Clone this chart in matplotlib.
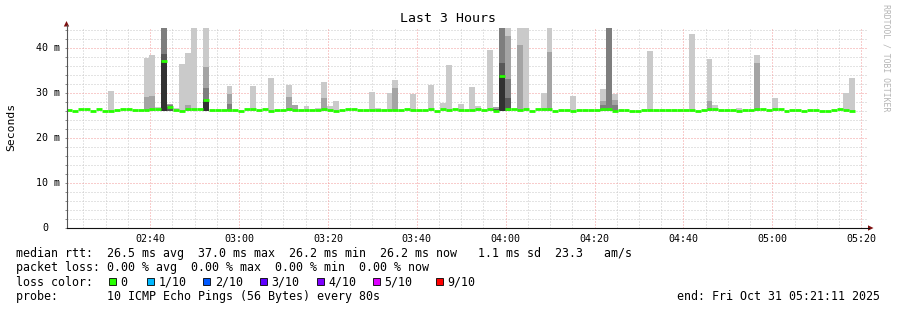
import numpy as np
import matplotlib
matplotlib.use("Agg")
import matplotlib.pyplot as plt
import matplotlib.transforms as mtransforms
from matplotlib.patches import Rectangle, Polygon

W, H = 897, 310
MONO = "DejaVu Sans Mono"


def hhmm(s):
    p = [int(v) for v in s.split(":")]
    return p[0] * 60 + p[1] + (p[2] / 60 if len(p) > 2 else 0)


# rrd window: last 3 hours, 80 s step
t_start = hhmm("02:21:11")
t_end = hhmm("05:21:11")
step = 80 / 60

# median rtt per step (ms)
median_rtt = [
    26.3, 26.1, 26.5, 26.5, 26.1, 26.5, 26.1, 26.1, 26.3, 26.5,
    26.5, 26.3, 26.3, 26.3, 26.5, 26.5, 37.0, 26.9, 26.3, 26.1,
    26.5, 26.5, 26.5, 28.4, 26.3, 26.3, 26.3, 26.3, 26.3, 26.1,
    26.5, 26.5, 26.3, 26.5, 26.1, 26.3, 26.3, 26.5, 26.3, 26.3,
    26.3, 26.3, 26.3, 26.5, 26.3, 26.1, 26.3, 26.5, 26.5, 26.3,
    26.3, 26.3, 26.3, 26.3, 26.3, 26.3, 26.3, 26.5, 26.3, 26.3,
    26.3, 26.5, 26.1, 26.5, 26.3, 26.5, 26.3, 26.3, 26.3, 26.5,
    26.3, 26.5, 26.1, 33.8, 26.5, 26.5, 26.3, 26.5, 26.1, 26.5,
    26.5, 26.5, 26.1, 26.3, 26.3, 26.1, 26.3, 26.3, 26.3, 26.3,
    26.5, 26.5, 26.1, 26.3, 26.3, 26.1, 26.1, 26.3, 26.3, 26.3,
    26.3, 26.3, 26.3, 26.3, 26.3, 26.3, 26.1, 26.3, 26.5, 26.5,
    26.3, 26.3, 26.3, 26.1, 26.3, 26.3, 26.5, 26.5, 26.3, 26.5,
    26.5, 26.1, 26.3, 26.3, 26.1, 26.3, 26.3, 26.1, 26.1, 26.3,
    26.5, 26.3, 26.1,
]

# smoke: step index and top of each ping band (outer -> inner), ms
N = np.nan
smoke_step = [7, 13, 14, 15, 16, 17, 18, 19, 20, 21, 23, 27, 31, 34, 37, 38,
              40, 42, 43, 44, 45, 51, 52, 54, 55, 58, 61, 63, 64, 66, 68, 69,
              71, 72, 73, 74, 76, 77, 80, 81, 85, 90, 91, 92, 98, 105, 108,
              109, 113, 116, 119, 131, 132]
band1 = [30.4, 37.8, 38.4, 26.8, N, N, 26.7, 36.4, 38.9, 44.6, 44.6, 31.6,
         31.6, 33.3, 31.8, N, 27.1, 26.7, 32.4, 27.1, 28.3, 30.2, 26.7, 30.0,
         32.9, 29.8, 31.8, 27.8, 36.2, 27.6, 31.3, 27.1, 39.6, N, N, 44.6,
         44.6, 44.6, 30.0, 44.6, 29.3, 30.9, N, 29.8, 39.3, 43.0, 37.6, 27.3,
         26.7, 38.4, 28.9, 30.0, 33.3]
band2 = [N, 29.1, 29.3, N, N, 27.6, N, N, 27.3, N, 35.8, 29.8, N, N, 29.1,
         27.3, N, N, 28.9, N, N, N, N, N, 31.1, N, N, N, N, N, N, N, N, 26.9,
         N, 42.7, 40.7, N, N, 39.1, N, 28.2, N, 28.4, N, N, 28.2, N, N, 36.7,
         N, N, N]
band3 = [N, N, N, N, 44.6, 27.3, N, N, N, N, 31.1, 27.6, N, N, N, N, N, N,
         N, N, N, N, N, N, N, N, N, N, N, N, N, N, N, N, 44.6, 33.1, N, N, N,
         N, N, 27.3, 44.6, 27.4, N, N, N, N, N, N, N, N, N]
band4 = [N, N, N, N, 38.7, 26.9, N, N, N, N, 28.7, N, N, N, N, N, N, N, N,
         N, N, N, N, N, N, N, N, N, N, N, N, N, N, 26.5, 36.7, 28.9, N, N, N,
         N, N, N, N, N, N, N, N, N, N, N, N, N, N]
band5 = [N, N, N, N, 37.1, N, N, N, N, N, 28.4, N, N, N, N, N, N, N, N, N,
         N, N, N, N, N, N, N, N, N, N, N, N, N, N, 33.9, N, N, N, N, N, N, N,
         N, N, N, N, N, N, N, N, N, N, N]
ping_min = 26.0
band_colors = ["#cacaca", "#a4a4a4", "#7e7e7e", "#585858", "#323232"]

# loss legend
loss_labels = ["0", "1/10", "2/10", "3/10", "4/10", "5/10", "9/10"]
loss_colors = ["#26ff00", "#00b8ff", "#0059ff", "#5e00ff", "#7e00ff", "#dd00ff", "#ff0000"]

y_ticks = [0, 10, 20, 30, 40]
y_ticklabels = ["0", "10 m", "20 m", "30 m", "40 m"]
x_ticklabels = ["02:40", "03:00", "03:20", "03:40", "04:00", "04:20", "04:40", "05:00", "05:20"]

legend_lines = [
    "median rtt:  26.5 ms avg  37.0 ms max  26.2 ms min  26.2 ms now   1.1 ms sd  23.3   am/s",
    "packet loss: 0.00 % avg  0.00 % max  0.00 % min  0.00 % now",
    "loss color:",
    "probe:       10 ICMP Echo Pings (56 Bytes) every 80s",
]
end_text = "end: Fri Oct 31 05:21:11 2025"

# ---------------------------------------------------------------- figure
fig = plt.figure(figsize=(W / 100, H / 100), dpi=100, facecolor="white")
px_l, px_r, px_t, px_b = 66.5, 866.5, 28, 228
ax = fig.add_axes([px_l / W, 1 - px_b / H, (px_r - px_l) / W, (px_b - px_t) / H])
ax.set_facecolor("white")
ax.set_xlim(t_start, t_end)
ax.set_ylim(0, 44.44)
for s in ax.spines.values():
    s.set_visible(False)

# grid
minor_x = np.arange(hhmm("02:25"), t_end, 5)
major_x = [hhmm(s) for s in x_ticklabels]
dots = (0, (1, 2))
ax.vlines([m for m in minor_x if m not in major_x], 0, 44.44, color="#c8c8c8",
          lw=0.72, linestyles=dots, zorder=0.5)
ax.hlines([v for v in np.arange(2, 45, 2) if v % 10], t_start, t_end, color="#c8c8c8",
          lw=0.72, linestyles=dots, zorder=0.5)
ax.vlines(major_x, 0, 44.44, color="#f29a9a", lw=0.72, linestyles=dots, zorder=0.6)
ax.hlines(y_ticks[1:], t_start, t_end, color="#f29a9a", lw=0.72, linestyles=dots, zorder=0.6)

# smoke
left = t_start + np.array(smoke_step) * step
for tops, col in zip([band1, band2, band3, band4, band5], band_colors):
    tops = np.array(tops)
    ok = ~np.isnan(tops)
    ax.bar(left[ok], tops[ok] - ping_min, bottom=ping_min, width=step, align="edge",
           color=col, linewidth=0, zorder=1)

# median
med_left = t_start + np.arange(len(median_rtt)) * step
ax.hlines(median_rtt, med_left, med_left + step, color=loss_colors[0], lw=2.0, zorder=2)

# ticks
ax.set_xticks(major_x)
ax.set_xticklabels(x_ticklabels, fontsize=7.2, family=MONO)
ax.set_yticks(y_ticks)
ax.set_yticklabels([])
ax.set_yticks(np.arange(0, 45, 2), minor=True)
ax.tick_params(axis="x", which="both", length=0, pad=4)
ax.tick_params(axis="y", which="both", length=1.6, width=0.7, color="#888")
ytrans = mtransforms.blended_transform_factory(ax.transAxes, ax.transData)
for v, lab in zip(y_ticks, y_ticklabels):
    off = -6.5 if lab != "0" else -18.5
    tr = ytrans + mtransforms.ScaledTranslation(off / 100, 0, fig.dpi_scale_trans)
    ax.text(0, v, lab, transform=tr, ha="right", va="center", fontsize=7.2, family=MONO)

# overlay in pixel coordinates
ov = fig.add_axes([0, 0, 1, 1], zorder=5)
ov.set_xlim(0, W)
ov.set_ylim(H, 0)
ov.axis("off")

ov.plot([px_l, px_l], [px_b, 25], color="#555", lw=0.8)
ov.plot([px_l, 869], [px_b, px_b], color="#111", lw=0.8)
arrow = "#7f1010"
ov.add_patch(Polygon([[px_l - 2.7, 26.5], [px_l + 2.7, 26.5], [px_l, 21]], closed=True,
                     color=arrow, lw=0))
ov.add_patch(Polygon([[868, px_b - 2.7], [868, px_b + 2.7], [873.5, px_b]], closed=True,
                     color=arrow, lw=0))

ov.text(W / 2, 19, "Last 3 Hours", ha="center", va="center", fontsize=9.5, family=MONO)
ov.text(11, 127, "Seconds", ha="center", va="center", rotation=90, fontsize=8.2, family=MONO)
ov.text(886, 4, "RRDTOOL / TOBI OETIKER", ha="center", va="top", rotation=270,
        fontsize=5.9, family=MONO, color="#b4b4b4")

for y, line in zip([253.5, 268, 282, 296.5], legend_lines):
    ov.text(16, y, line, ha="left", va="center", fontsize=8.4, family=MONO)
ov.text(880, 296.5, end_text, ha="right", va="center", fontsize=8.4, family=MONO)

box_x = [108.5, 146.7, 203.3, 260, 316.7, 372.7, 436]
for bx, lab, col in zip(box_x, loss_labels, loss_colors):
    ov.add_patch(Rectangle((bx, 278), 7, 7, facecolor=col, edgecolor="black", lw=0.6))
    ov.text(bx + 11.5, 282, lab, ha="left", va="center", fontsize=8.4, family=MONO)

fig.savefig("out.png", dpi=100, facecolor="white")
